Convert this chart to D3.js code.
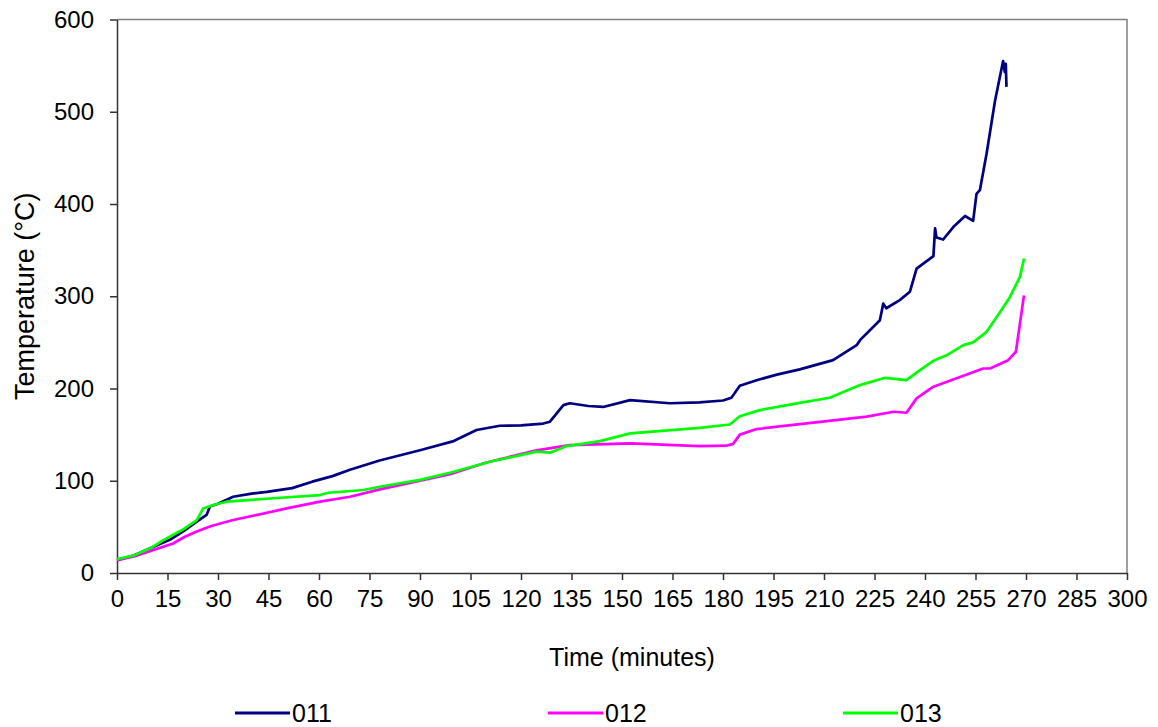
<!DOCTYPE html>
<html>
<head>
<meta charset="utf-8">
<script src="https://cdn.jsdelivr.net/npm/d3@7"></script>
<style>
  html, body { margin: 0; padding: 0; background: #fff; }
  svg { display: block; font-family: "Liberation Sans", Arial, sans-serif; }
  .tick text { font-size: 24px; fill: #000; }
</style>
</head>
<body>
<svg id="chart" width="1158" height="727"></svg>
<script>
const WIDTH = 1158;
const HEIGHT = 727;

// series 011
const time011 = [0, 5, 10, 15.7, 20, 23.7, 26.6, 27.6, 30, 34.5, 40, 44.5, 52, 58, 64, 69.2, 78, 90, 100, 106.8, 113.7, 120, 126.6, 128.6, 132.6, 134.5, 140, 144.4, 152.4, 164.2, 173, 180, 182.5, 185, 190, 196, 202.8, 212.7, 219.7, 220.7, 226.6, 227.6, 228.5, 232.5, 235.5, 237.5, 242.5, 243, 243.4, 245.4, 248.4, 251.9, 254.3, 255.3, 256.3, 258.3, 260.8, 263.2, 263.7, 264, 264.2];
const temp011 = [14, 19, 27, 36, 46, 55.6, 63, 72, 75, 82.7, 86, 88, 92, 99, 105, 112, 122, 133, 143, 155, 159.6, 160, 162, 164, 182, 184, 181, 180, 187.4, 184, 185, 187, 190, 203, 209, 215, 220.7, 230.8, 247, 252.4, 274, 292, 287, 295.8, 304.8, 330, 343.5, 373.5, 363.7, 361.5, 375, 387, 381.7, 411, 415, 454.7, 512, 555, 543, 552, 527];

// series 012
const time012 = [0, 5, 10, 16.7, 20, 23.7, 28, 34.5, 50.4, 60.3, 69.2, 78.1, 98.9, 110, 124.6, 134.5, 152.4, 173.1, 181, 183, 185, 190, 202.8, 222.7, 230.6, 234.5, 237.5, 242.5, 257.3, 259.3, 264.7, 267, 268.2, 269.4];
const temp012 = [14, 18, 24, 32, 39, 45, 51, 57.4, 70, 77.3, 82.7, 90.7, 107, 120, 133, 138.7, 140.5, 137.6, 138, 140, 150, 156, 161.4, 169.5, 174.8, 173.7, 189.3, 202, 221.7, 221.7, 230.7, 239.8, 270.5, 301];

// series 013
const time013 = [0, 5, 10, 13.8, 20, 23.7, 25.6, 28.6, 32.6, 46.4, 60.3, 62.8, 73.2, 78.1, 90, 98.9, 110.8, 124.6, 128.6, 133.6, 143.5, 152.4, 173.1, 182, 185, 191, 202.8, 211.7, 220.7, 228.1, 234.5, 238.5, 242.5, 246.4, 251.4, 254.3, 258.3, 262.3, 265.2, 268.2, 269.4];
const temp013 = [15, 19, 27, 35.7, 48, 57.4, 70, 73.7, 77.3, 81, 84.5, 87, 90, 93.5, 101, 108.7, 120.6, 131.5, 130.4, 137.6, 143, 151.3, 157.4, 161, 170, 176.6, 184.5, 190, 203.7, 211.6, 209, 220, 230, 236, 247, 250, 261.4, 283, 299, 321, 341];

const seriesNames = ["011", "012", "013"];
const seriesColors = ["#000080", "#ff00ff", "#00ff00"];
const xTicks = d3.range(0, 301, 15);
const yTicks = [0, 100, 200, 300, 400, 500, 600];

const plot = { left: 117, right: 1127, top: 19.5, bottom: 573 };

const svg = d3.select("#chart");

const x = d3.scaleLinear().domain([0, 300]).range([plot.left, plot.right]);
const y = d3.scaleLinear().domain([0, 600]).range([plot.bottom, plot.top]);

// plot area border (top + right)
svg.append("path")
  .attr("d", `M${plot.left},${plot.top}H${plot.right}V${plot.bottom}`)
  .attr("fill", "none")
  .attr("stroke", "#808080")
  .attr("stroke-width", 1.5);

const xAxis = svg.append("g")
  .attr("transform", `translate(0,${plot.bottom})`)
  .call(d3.axisBottom(x).tickValues(xTicks).tickSize(7).tickSizeOuter(0).tickPadding(10));

const yAxis = svg.append("g")
  .attr("transform", `translate(${plot.left},0)`)
  .call(d3.axisLeft(y).tickValues(yTicks).tickSize(7).tickSizeOuter(0).tickPadding(16));

[xAxis, yAxis].forEach(g => {
  g.select(".domain").attr("stroke", "#333").attr("stroke-width", 1.5);
  g.selectAll(".tick line").attr("stroke", "#333").attr("stroke-width", 1.5);
});

const series = [
  { name: seriesNames[0], color: seriesColors[0], t: time011, v: temp011 },
  { name: seriesNames[1], color: seriesColors[1], t: time012, v: temp012 },
  { name: seriesNames[2], color: seriesColors[2], t: time013, v: temp013 }
];

const line = d3.line()
  .x(d => x(d[0]))
  .y(d => y(d[1]));

svg.append("g")
  .selectAll("path")
  .data(series)
  .join("path")
  .attr("d", s => line(s.t.map((t, i) => [t, s.v[i]])))
  .attr("fill", "none")
  .attr("stroke", s => s.color)
  .attr("stroke-width", 2.7)
  .attr("stroke-linejoin", "round");

// axis titles
svg.append("text")
  .attr("x", 632)
  .attr("y", 666)
  .attr("text-anchor", "middle")
  .attr("font-size", 25)
  .text("Time (minutes)");

svg.append("text")
  .attr("transform", `translate(34,${(plot.top + plot.bottom) / 2}) rotate(-90)`)
  .attr("text-anchor", "middle")
  .attr("font-size", 27)
  .text("Temperature (°C)");

// legend
const legendX = [235, 548, 843];
const legend = svg.append("g")
  .selectAll("g")
  .data(series)
  .join("g")
  .attr("transform", (d, i) => `translate(${legendX[i]},713)`);

legend.append("line")
  .attr("x1", 0).attr("x2", 55)
  .attr("stroke", d => d.color)
  .attr("stroke-width", 3);

legend.append("text")
  .attr("x", 57)
  .attr("y", 9)
  .attr("font-size", 25)
  .text(d => d.name);
</script>
</body>
</html>
